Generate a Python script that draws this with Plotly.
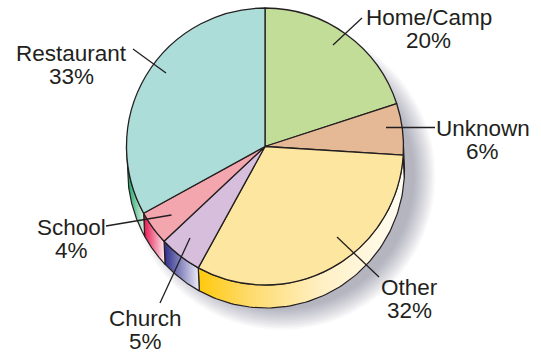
import numpy as np
import plotly.graph_objects as go

# Where outbreaks happened: share of cases by setting
categories = ["Home/Camp", "Unknown", "Other", "Church", "School", "Restaurant"]
shares = [20, 6, 32, 5, 4, 33]
face_colors = ["#c1dd98", "#e6b996", "#fde6a0", "#d7bedc", "#f4a6ae", "#acddd9"]
# left-to-right shading of each wedge's visible rim
rim_scales = [
    [[0, "#9fc46c"], [1, "#e6f2d6"]],
    [[0, "#d29c74"], [1, "#f6e6d9"]],
    [[0, "#ffc90c"], [0.25, "#fedb6c"], [0.6, "#fff0c4"], [1, "#fffcf2"]],
    [[0, "#2c2c8a"], [1, "#efeef8"]],
    [[0, "#e6154d"], [1, "#fdeaef"]],
    [[0, "#0c9c5a"], [1, "#e2f4eb"]],
]

# label placement (centre x, baseline y) and leader lines (inner end, outer end)
label_xy = [(428.5, 25), (482.5, 136), (409, 295), (145, 326), (71.5, 235), (71.5, 61)]
leader_xy = [
    ((333, 45), (362, 18)),
    ((386, 127.5), (435, 127.5)),
    ((337, 237), (379, 277)),
    ((190, 238), (160, 303)),
    ((171.5, 215), (106, 226)),
    ((166, 73), (133, 49)),
]

W, H = 541, 353
CX, CY, R = 265, 146.5, 138.5
DEPTH, SHIFT_X = 23, 1
INK = "#231f20"
FONT = "Liberation Sans, Arial, Helvetica, sans-serif"
FS = 22.5
LINE_GAP = 23.5

fig = go.Figure()

# rim of the disc: only the front half (90..270 deg clockwise from 12 o'clock) shows
bounds = np.concatenate([[0], np.cumsum(shares)]) * 360.0 / sum(shares)
for i in range(len(shares)):
    lo, hi = max(bounds[i], 90.0), min(bounds[i + 1], 270.0)
    if hi <= lo:
        continue
    th = np.radians(np.linspace(lo, hi, 90))
    xt = CX + R * np.sin(th)
    yt = CY - R * np.cos(th)
    xb = xt + SHIFT_X
    yb = yt + DEPTH
    xs = np.concatenate([xt, xb[::-1], xt[:1]])
    ys = np.concatenate([yt, yb[::-1], yt[:1]])
    fig.add_trace(go.Scatter(
        x=xs, y=ys, mode="lines", fill="toself",
        fillgradient=dict(type="horizontal", colorscale=rim_scales[i]),
        line=dict(color=INK, width=1.2),
        hoverinfo="skip", showlegend=False,
    ))

# top face
fig.add_trace(go.Pie(
    labels=categories, values=shares, sort=False, direction="clockwise",
    rotation=0, textinfo="none", hoverinfo="label+percent",
    marker=dict(colors=face_colors, line=dict(color=INK, width=1.3)),
    domain=dict(x=[(CX - R) / W, (CX + R) / W], y=[1 - (CY + R) / H, 1 - (CY - R) / H]),
    showlegend=False,
))

shapes = []
# soft drop shadow to the lower right
for k in range(14):
    rr = R - 6 + k * 1.6
    sx, sy = CX + 17, CY + 30
    shapes.append(dict(
        type="circle", xref="x", yref="y", layer="below",
        x0=sx - rr, x1=sx + rr, y0=sy - rr, y1=sy + rr,
        fillcolor="rgba(70,70,85,0.03)", line=dict(width=0),
    ))
for (x0, y0), (x1, y1) in leader_xy:
    shapes.append(dict(
        type="line", xref="x", yref="y", layer="above",
        x0=x0, y0=y0, x1=x1, y1=y1, line=dict(color=INK, width=1.3),
    ))

annotations = []
total = sum(shares)
for name, v, (lx, base) in zip(categories, shares, label_xy):
    for txt, b in ((name, base), (f"{round(100 * v / total)}%", base + LINE_GAP)):
        annotations.append(dict(
            x=lx, y=b - 7.8, xref="x", yref="y", text=txt, showarrow=False,
            xanchor="center", yanchor="middle",
            font=dict(family=FONT, size=FS, color=INK),
        ))

fig.update_layout(
    width=W, height=H, margin=dict(l=0, r=0, t=0, b=0, pad=0),
    paper_bgcolor="white", plot_bgcolor="white",
    xaxis=dict(range=[0, W], visible=False, fixedrange=True),
    yaxis=dict(range=[H, 0], visible=False, fixedrange=True),
    shapes=shapes, annotations=annotations, showlegend=False,
)

fig.write_html("out.html")
